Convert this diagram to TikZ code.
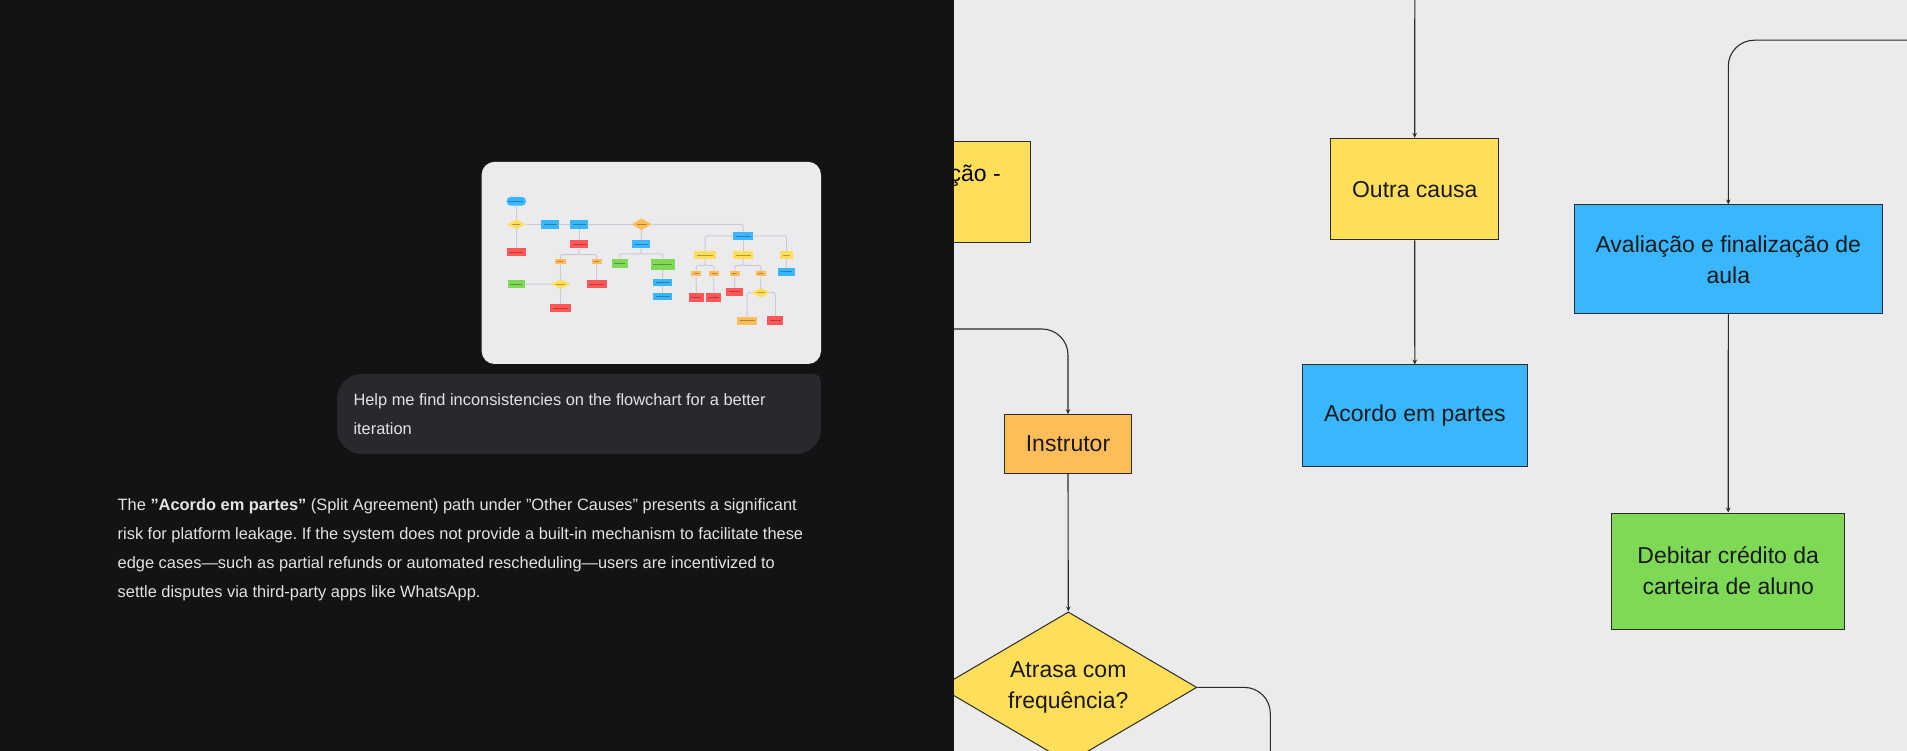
\documentclass[tikz,border=0pt]{standalone}
\usepackage{fontspec}
\setmainfont{Liberation Sans}
\frenchspacing
\usetikzlibrary{shapes.geometric,arrows.meta}

\definecolor{canvas}{HTML}{EBEBED}
\definecolor{panel}{HTML}{131313}
\definecolor{bubble}{HTML}{28292C}
\definecolor{chattext}{HTML}{E3E3E3}
\definecolor{cyellow}{HTML}{FFDE59}
\definecolor{cblue}{HTML}{38B6FF}
\definecolor{corange}{HTML}{FFBD59}
\definecolor{cgreen}{HTML}{7ED957}
\definecolor{cred}{HTML}{FF5757}
\definecolor{edge}{HTML}{2B2B2B}
\definecolor{thinline}{HTML}{C8CCCF}

\tikzset{
  box/.style={draw=edge,line width=1pt,inner sep=0pt,align=center,
    text=black!90,font=\fontsize{23}{31}\selectfont},
  conn/.style={edge,line width=1.1pt,-{Stealth[length=5pt,width=4.5pt]}},
  chat/.style={anchor=base west,inner sep=0pt,text=chattext,
    font=\fontsize{16.4}{28}\selectfont},
  tbox/.style={rectangle,inner sep=0pt,
    path picture={\draw[black,opacity=.3,line width=.9pt]
      ([xshift=2.5pt]path picture bounding box.west) --
      ([xshift=-2.5pt]path picture bounding box.east);}},
  tdia/.style={diamond,inner sep=0pt,
    path picture={\draw[black,opacity=.3,line width=.9pt]
      ([xshift=5pt]path picture bounding box.west) --
      ([xshift=-5pt]path picture bounding box.east);}},
  tline/.style={thinline,line width=1pt,rounded corners=2pt}
}

\begin{document}
\begin{tikzpicture}[x=1pt,y=-1pt]
\useasboundingbox (0,0) rectangle (1907,751);
\clip (0,0) rectangle (1907,751);
\fill[canvas] (0,0) rectangle (1907,751);

% flowchart on the canvas
\node[box,fill=cyellow,minimum width=150pt,minimum height=101pt] (leftbox) at (955,192.4) {};
\node[anchor=base east,inner sep=0pt,font=\fontsize{23}{31}\selectfont] (leftlabel) at (1001,182) {ção -};
\node[box,fill=cyellow,minimum width=168pt,minimum height=101.6pt] (outra) at (1414.7,189.2) {Outra causa};
\node[box,fill=cblue,minimum width=224.5pt,minimum height=101pt] (acordo) at (1414.8,415.5) {Acordo em partes};
\node[box,fill=corange,minimum width=127.4pt,minimum height=58.7pt] (instrutor) at (1068,444.1) {Instrutor};
\node[box,diamond,aspect=1.7,fill=cyellow,minimum width=257pt,minimum height=151pt] (atrasa) at (1068.3,687.4) {Atrasa com\\frequência?};
\node[box,fill=cblue,minimum width=308pt,minimum height=108.7pt] (avaliacao) at (1728.3,259.3) {Avaliação e finalização de\\aula};
\node[box,fill=cgreen,minimum width=233pt,minimum height=116pt] (debitar) at (1728.2,571) {Debitar crédito da\\carteira de aluno};

\coordinate (topin) at (1414.8,-2);
\coordinate (leftin) at (930,329);
\coordinate (rightin) at (1915,40.2);
\coordinate (downout) at (1270.3,760);

\draw[conn] (topin) -- (outra.north);
\draw[conn] (outra.south) -- (acordo.north);
\draw[conn,rounded corners=26pt] (leftin) -| (instrutor.north);
\draw[conn] (instrutor.south) -- (atrasa.north);
\draw[edge,line width=1.1pt,rounded corners=26pt] (atrasa.east) -| (downout);
\draw[conn,rounded corners=26pt] (rightin) -| (avaliacao.north);
\draw[conn] (avaliacao.south) -- (debitar.north);

% chat panel
\fill[panel] (0,0) rectangle (954,751);
\fill[canvas,rounded corners=13pt] (481.6,161.8) rectangle (821,364);

% thumbnail of the whole flowchart
\node[tbox,fill=cblue,rounded corners=4pt,minimum width=19.3pt,minimum height=8.7pt] (tstart) at (516.3,201.3) {};
\node[tdia,fill=cyellow,minimum width=18pt,minimum height=10pt] (td1) at (516.3,224.3) {};
\node[tbox,fill=cblue,minimum width=17.7pt,minimum height=8.7pt] (tb1) at (550.2,224.3) {};
\node[tbox,fill=cblue,minimum width=17.7pt,minimum height=8.7pt] (tb2) at (579.2,224.3) {};
\node[tdia,fill=corange,minimum width=20pt,minimum height=12pt] (td2) at (641.7,224.3) {};
\node[tbox,fill=cred,minimum width=19.3pt,minimum height=8pt] (tr1) at (516.3,252.3) {};
\node[tbox,fill=cred,minimum width=17.7pt,minimum height=8.3pt] (tr2) at (579.2,244.2) {};
\node[tbox,fill=corange,minimum width=10.7pt,minimum height=5pt] (to1) at (560.3,261.8) {};
\node[tbox,fill=corange,minimum width=10pt,minimum height=5pt] (to2) at (596.7,261.8) {};
\node[tbox,fill=cgreen,minimum width=16.7pt,minimum height=8pt] (tg1) at (516.3,284.3) {};
\node[tdia,fill=cyellow,minimum width=19pt,minimum height=10pt] (td3) at (560.7,284) {};
\node[tbox,fill=cred,minimum width=20pt,minimum height=7.7pt] (tr3) at (596.7,284.2) {};
\node[tbox,fill=cred,minimum width=20.4pt,minimum height=8pt] (tr4) at (560.5,308) {};
\node[tbox,fill=cblue,minimum width=17.7pt,minimum height=8.6pt] (tb3) at (641.2,244) {};
\node[tbox,fill=cgreen,minimum width=15.7pt,minimum height=8.7pt] (tg2) at (619.8,263.3) {};
\node[tbox,fill=cgreen,minimum width=23.7pt,minimum height=11pt] (tg3) at (662.8,264.5) {};
\node[tbox,fill=cblue,minimum width=19pt,minimum height=6.7pt] (tb4) at (662.5,282.3) {};
\node[tbox,fill=cblue,minimum width=19pt,minimum height=7pt] (tb5) at (662.5,296.5) {};
\node[tbox,fill=cblue,minimum width=20.3pt,minimum height=7.4pt] (tb6) at (743.2,236) {};
\node[tbox,fill=cyellow,minimum width=21.4pt,minimum height=7.4pt] (ty1) at (705,255) {};
\node[tbox,fill=cyellow,minimum width=20.3pt,minimum height=7.4pt] (ty2) at (743.2,255) {};
\node[tbox,fill=cyellow,minimum width=12.4pt,minimum height=7.4pt] (ty3) at (786.5,255) {};
\node[tbox,fill=cblue,minimum width=16.7pt,minimum height=7.7pt] (tb7) at (786.3,271.8) {};
\node[tbox,fill=corange,minimum width=10.3pt,minimum height=5.3pt] (to3) at (696.2,273.7) {};
\node[tbox,fill=corange,minimum width=10pt,minimum height=5.3pt] (to4) at (714,273.7) {};
\node[tbox,fill=corange,minimum width=10.3pt,minimum height=5.3pt] (to5) at (734.8,273.7) {};
\node[tbox,fill=corange,minimum width=9.7pt,minimum height=5.3pt] (to6) at (760.8,273.7) {};
\node[tbox,fill=cred,minimum width=14.7pt,minimum height=8.4pt] (tr5) at (696.3,297.5) {};
\node[tbox,fill=cred,minimum width=14.7pt,minimum height=8.4pt] (tr6) at (713.7,297.5) {};
\node[tbox,fill=cred,minimum width=16.4pt,minimum height=8.3pt] (tr7) at (734.5,291.8) {};
\node[tdia,fill=cyellow,minimum width=18pt,minimum height=10pt] (td4) at (760.7,292.7) {};
\node[tbox,fill=corange,minimum width=20.3pt,minimum height=8pt] (to7) at (747.2,320.7) {};
\node[tbox,fill=cred,minimum width=16pt,minimum height=8.7pt] (tr8) at (775.3,320.7) {};

\draw[tline] (tstart) -- (td1);
\draw[tline] (td1) -- (tr1);
\draw[tline] (td1) -- (tb1);
\draw[tline] (tb1) -- (tb2);
\draw[tline] (tb2) -- (td2);
\draw[tline] (tb2) -- (tr2);
\draw[tline] (tr2.south) -- ++(0,6) -| (to1.north);
\draw[tline] (tr2.south) ++(0,6) -| (to2.north);
\draw[tline] (to1) -- (td3);
\draw[tline] (tg1) -- (td3);
\draw[tline] (td3) -- (tr4);
\draw[tline] (to2) -- (tr3);
\draw[tline] (td2) -- (tb3);
\draw[tline] (tb3.south) -- ++(0,5.4) -| (tg2.north);
\draw[tline] (tb3.south) ++(0,5.4) -| (tg3.north);
\draw[tline] (tg3) -- (tb4);
\draw[tline] (tb4) -- (tb5);
\draw[tline] (td2.east) -| (tb6.north);
\draw[tline] (tb6.west) -| (ty1.north);
\draw[tline] (tb6.east) -| (ty3.north);
\draw[tline] (tb6) -- (ty2);
\draw[tline] (ty3) -- (tb7);
\draw[tline] (ty1.south) -- ++(0,6.6) -| (to3.north);
\draw[tline] (ty1.south) ++(0,6.6) -| (to4.north);
\draw[tline] (ty2.south) -- ++(0,6.6) -| (to5.north);
\draw[tline] (ty2.south) ++(0,6.6) -| (to6.north);
\draw[tline] (to3) -- (tr5);
\draw[tline] (to4) -- (tr6);
\draw[tline] (to5) -- (tr7);
\draw[tline] (to6) -- (td4);
\draw[tline] (td4.west) -| (to7.north);
\draw[tline] (td4.east) -| (tr8.north);

% prompt bubble
\fill[bubble] (579,374) [rounded corners=8pt] -- (821,374) [rounded corners=25pt] -- (821,454) -- (337,454) -- (337,374) -- cycle;
\node[chat] (ask1) at (353.3,406) {Help me find inconsistencies on the flowchart for a better};
\node[chat] (ask2) at (353.3,434) {iteration};

% answer
\node[chat] (reply1) at (117.5,510) {The \textbf{"Acordo em partes"} (Split Agreement) path under "Other Causes" presents a significant};
\node[chat] (reply2) at (117.5,539) {risk for platform leakage. If the system does not provide a built-in mechanism to facilitate these};
\node[chat] (reply3) at (117.5,568) {edge cases—such as partial refunds or automated rescheduling—users are incentivized to};
\node[chat] (reply4) at (117.5,597) {settle disputes via third-party apps like WhatsApp.};
\end{tikzpicture}
\end{document}
